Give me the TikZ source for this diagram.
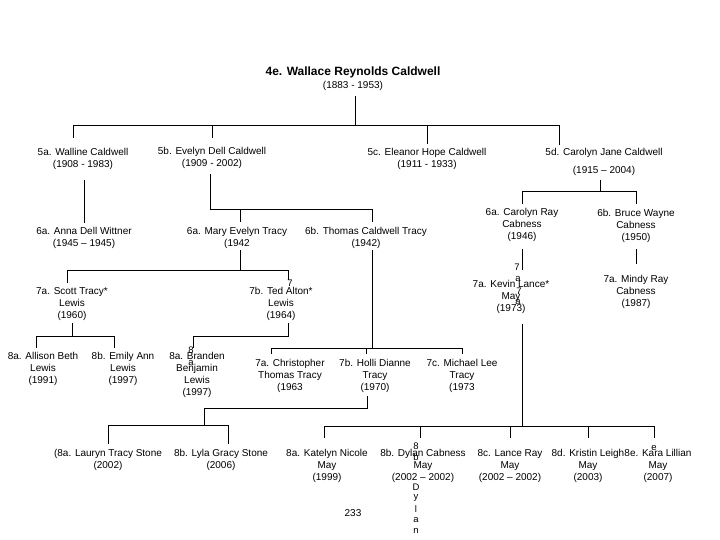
\documentclass[tikz,border=0pt]{standalone}
\usepackage{fontspec}
\setmainfont{Liberation Sans}
\begin{document}
\begin{tikzpicture}[x=1pt,y=-1pt,
  person/.style={align=center,inner sep=0pt,font=\fontsize{10}{12}\selectfont},
  titlebox/.style={align=center,inner sep=0pt,font=\fontsize{10}{13}\selectfont},
  stray/.style={inner sep=0pt,font=\fontsize{9.5}{10}\selectfont},
  link/.style={line width=1pt}]
\useasboundingbox (0,0) rectangle (720,540);
\fill[white] (0,0) rectangle (720,540);

% ---------- nodes ----------
\node[titlebox] (r) at (353,78.5) {{\fontsize{12}{13}\selectfont\bfseries 4e. Wallace Reynolds Caldwell}\\(1883 - 1953)};

\node[person] (g5a) at (83,159) {5a. Walline Caldwell\\(1908 - 1983)};
\node[person] (g5b) at (212,158) {5b. Evelyn Dell Caldwell\\(1909 - 2002)};
\node[person] (g5c) at (427,159) {5c. Eleanor Hope Caldwell\\(1911 - 1933)};
\node[person] (g5d) at (604,162) {5d. Carolyn Jane Caldwell\\[6pt](1915 -- 2004)};

\node[person] (g6anna) at (84,238) {6a. Anna Dell Wittner\\(1945 -- 1945)};
\node[person] (g6mary) at (237,238) {6a. Mary Evelyn Tracy\\(1942};
\node[person] (g6thomas) at (366,238) {6b. Thomas Caldwell Tracy\\(1942)};
\node[person] (g6carolyn) at (522,225) {6a. Carolyn Ray\\Cabness\\(1946)};
\node[person] (g6bruce) at (636,226) {6b. Bruce Wayne\\Cabness\\(1950)};

\node[person] (g7scott) at (72,304) {7a. Scott Tracy*\\Lewis\\(1960)};
\node[person] (g7ted) at (281,304) {7b. Ted Alton*\\Lewis\\(1964)};
\node[person] (g7kevin) at (511,297) {7a. Kevin Lance*\\May\\(1973)};
\node[person] (g7mindy) at (636,292) {7a. Mindy Ray\\Cabness\\(1987)};

\node[person] (g8allison) at (43,369) {8a. Allison Beth\\Lewis\\(1991)};
\node[person] (g8emily) at (123,369) {8b. Emily Ann\\Lewis\\(1997)};
\node[person] (g8branden) at (197,375) {8a. Branden\\Benjamin\\Lewis\\(1997)};

\node[person] (g7chris) at (290,376) {7a. Christopher\\Thomas Tracy\\(1963};
\node[person] (g7holli) at (375,376) {7b. Holli Dianne\\Tracy\\(1970)};
\node[person] (g7michael) at (462,376) {7c. Michael Lee\\Tracy\\(1973};

\node[person] (g8lauryn) at (108,460) {(8a. Lauryn Tracy Stone\\(2002)};
\node[person] (g8lyla) at (221,460) {8b. Lyla Gracy Stone\\(2006)};
\node[person] (g8katelyn) at (327,466) {8a. Katelyn Nicole\\May\\(1999)};
\node[person] (g8dylan) at (423,466) {8b. Dylan Cabness\\May\\(2002 -- 2002)};
\node[person] (g8lance) at (510,466) {8c. Lance Ray\\May\\(2002 -- 2002)};
\node[person] (g8kristin) at (588,466) {8d. Kristin Leigh\\May\\(2003)};
\node[person] (g8kara) at (658,466) {8e. Kara Lillian\\May\\(2007)};

\node[person] (page) at (353,513) {233};

% stray characters printed in the picture
\node[stray] (s1) at (290,283) {7};
\node[stray] (s2) at (191,350) {8};
\node[stray] (s3) at (191,363) {a};
\node[stray] (s4) at (517,267) {7};
\node[stray] (s5) at (518,279) {a};
\node[stray] (s6) at (519,291) {7};
\node[stray] (s7) at (518,302) {a};
\node[stray] (s8) at (416,446) {8};
\node[stray] (s9) at (416,457) {b};
\node[stray] (s10) at (416,487) {D};
\node[stray] (s11) at (416,498) {y};
\node[stray] (s12) at (416,509) {l};
\node[stray] (s13) at (416,520) {a};
\node[stray] (s14) at (416,531) {n};
\node[stray] (s15) at (654,448) {e};

% ---------- junction coordinates ----------
\coordinate (rB) at (355,96);   \coordinate (rJ) at (355,126);
\coordinate (aT) at (73,138);   \coordinate (aJ) at (73,126);
\coordinate (bT) at (212,138);  \coordinate (bJ) at (212,126);
\coordinate (cT) at (427,144);  \coordinate (cJ) at (427,126);
\coordinate (dT) at (559,145);  \coordinate (dJ) at (559,126);

\coordinate (annaB) at (84,180); \coordinate (annaT) at (84,223);

\coordinate (evB) at (210,174); \coordinate (evJ) at (210,210);
\coordinate (maryT) at (240,222); \coordinate (maryJ) at (240,210);
\coordinate (thT) at (372,222); \coordinate (thJ) at (372,210);

\coordinate (cjB) at (600,180); \coordinate (cjJ) at (600,192);
\coordinate (crT) at (522,204); \coordinate (crJ) at (522,192);
\coordinate (bwT) at (636,204); \coordinate (bwJ) at (636,192);

\coordinate (crB) at (522,249); \coordinate (kvT) at (522,270);
\coordinate (bwB) at (636,249); \coordinate (mnT) at (636,264);

\coordinate (maryB) at (240,250); \coordinate (maryK) at (240,270);
\coordinate (scT) at (67,283);  \coordinate (scJ) at (67,270);
\coordinate (tdT) at (288,280); \coordinate (tdJ) at (288,270);

\coordinate (scB) at (72,323);  \coordinate (scK) at (72,336);
\coordinate (alT) at (36,348);  \coordinate (alJ) at (36,336);
\coordinate (emT) at (114,348); \coordinate (emJ) at (114,336);

\coordinate (tdB) at (288,323); \coordinate (tdK) at (288,336);
\coordinate (brT) at (193,348); \coordinate (brJ) at (193,336);

\coordinate (thB) at (372,250); \coordinate (thK) at (372,348);
\coordinate (chT) at (271,354); \coordinate (chJ) at (271,348);
\coordinate (hoT) at (366,354); \coordinate (hoJ) at (366,348);
\coordinate (miT) at (462,354); \coordinate (miJ) at (462,348);

\coordinate (hoB) at (367,396); \coordinate (hoK) at (367,408);
\coordinate (stJ) at (204,408); \coordinate (stK) at (204,425);
\coordinate (laT) at (108,444); \coordinate (laJ) at (108,425);
\coordinate (lyT) at (228,444); \coordinate (lyJ) at (228,425);

\coordinate (kvB) at (522,324); \coordinate (kvK) at (522,426);
\coordinate (kaT) at (324,438); \coordinate (kaJ) at (324,426);
\coordinate (dyT) at (420,438); \coordinate (dyJ) at (420,426);
\coordinate (lcT) at (510,438); \coordinate (lcJ) at (510,426);
\coordinate (krT) at (588,438); \coordinate (krJ) at (588,426);
\coordinate (keT) at (654,438); \coordinate (keJ) at (654,426);

% ---------- connectors ----------
\draw[link] (rB) -- (rJ);
\draw[link] (aT) -- (aJ) -- (dJ) -- (dT);
\draw[link] (bJ) -- (bT);
\draw[link] (cJ) -- (cT);

\draw[link] (annaB) -- (annaT);

\draw[link] (evB) -- (evJ) -- (thJ) -- (thT);
\draw[link] (maryJ) -- (maryT);

\draw[link] (cjB) -- (cjJ);
\draw[link] (crT) -- (crJ) -- (bwJ) -- (bwT);

\draw[link] (crB) -- (kvT);
\draw[link] (bwB) -- (mnT);

\draw[link] (maryB) -- (maryK);
\draw[link] (scT) -- (scJ) -- (tdJ) -- (tdT);

\draw[link] (scB) -- (scK);
\draw[link] (alT) -- (alJ) -- (emJ) -- (emT);

\draw[link] (tdB) -- (tdK) -- (brJ) -- (brT);

\draw[link] (thB) -- (thK);
\draw[link] (chT) -- (chJ) -- (miJ) -- (miT);
\draw[link] (hoJ) -- (hoT);

\draw[link] (hoB) -- (hoK) -- (stJ) -- (stK);
\draw[link] (laT) -- (laJ) -- (lyJ) -- (lyT);

\draw[link] (kvB) -- (kvK);
\draw[link] (kaT) -- (kaJ) -- (keJ) -- (keT);
\draw[link] (dyJ) -- (dyT);
\draw[link] (lcJ) -- (lcT);
\draw[link] (krJ) -- (krT);
\end{tikzpicture}
\end{document}
